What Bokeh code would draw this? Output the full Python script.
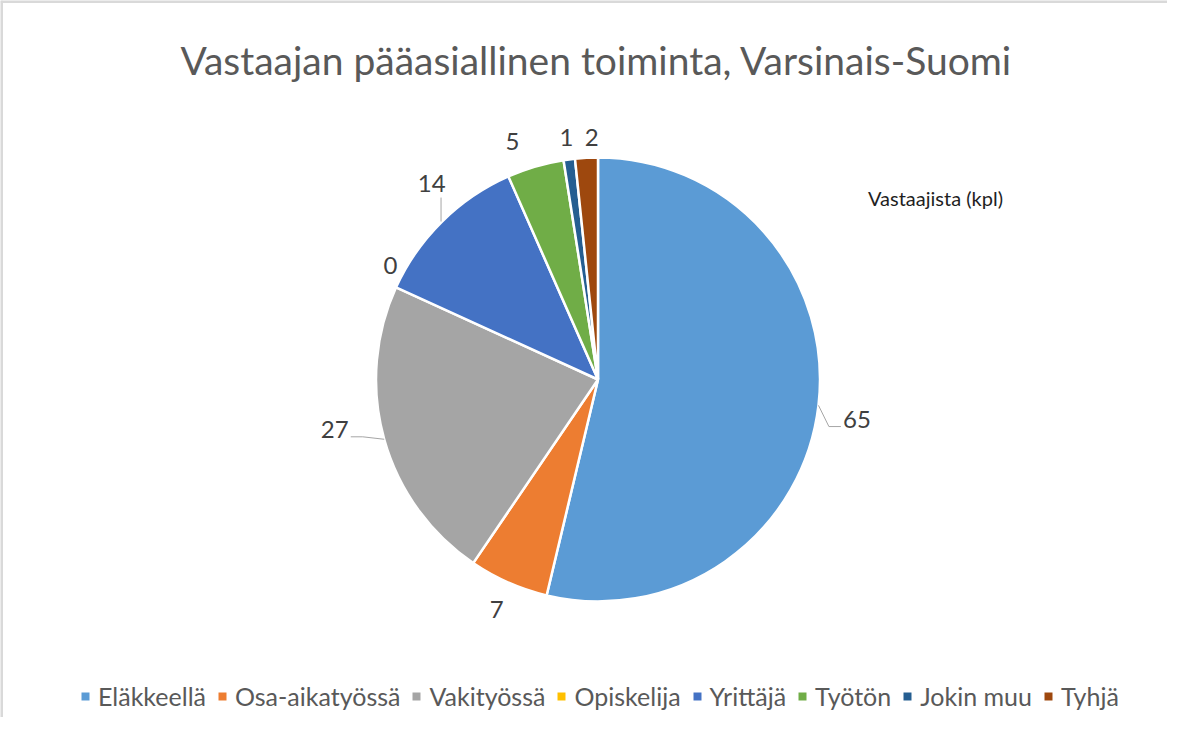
import math
from bokeh.plotting import figure
from bokeh.models import Range1d, Legend, LegendItem, ColumnDataSource
from bokeh.core.properties import value
from bokeh.embed import file_html
from bokeh.resources import INLINE

# ---- data ----
categories = ["Eläkkeellä", "Osa-aikatyössä", "Vakityössä", "Opiskelija",
              "Yrittäjä", "Työtön", "Jokin muu", "Tyhjä"]
counts = [65, 7, 27, 0, 14, 5, 1, 2]
colors = ["#5B9BD5", "#ED7D31", "#A5A5A5", "#FFC000",
          "#4472C4", "#70AD47", "#255E91", "#9E480E"]
title_text = "Vastaajan pääasiallinen toiminta, Varsinais-Suomi"
note_text = "Vastaajista (kpl)"

# ---- label placement style (Excel "best fit") ----
label_gap = [40, 29, 46, 15, 35, 31, 22, 20]          # px outside the rim
label_nudge = [-2.1, 0, -4.8, -4.3, -4.3, 3.4, 0, -1.5]  # degrees
leader = ["h", None, "h", None, "v", None, None, None]

W, H = 1167, 717
FONT = "Lato"

p = figure(width=W, height=H, output_backend="svg", toolbar_location=None,
           x_axis_type=None, y_axis_type=None,
           x_range=Range1d(0, W), y_range=Range1d(0, H),
           min_border=0, outline_line_color=None)
p.grid.visible = False

def sy(y):
    return H - y

cx, cy, r = 597.5, sy(379), 222

total = sum(counts)
starts, ends, mids = [], [], []
cum = 0
for v in counts:
    a0 = math.pi / 2 - 2 * math.pi * cum / total
    cum += v
    a1 = math.pi / 2 - 2 * math.pi * cum / total
    starts.append(a0)
    ends.append(a1)
    mids.append((a0 + a1) / 2)

keep = [i for i, v in enumerate(counts) if v > 0]
src = ColumnDataSource(dict(start=[starts[i] for i in keep],
                            end=[ends[i] for i in keep],
                            color=[colors[i] for i in keep]))
p.wedge(x=cx, y=cy, radius=r, start_angle="start", end_angle="end",
        direction="clock", fill_color="color", line_color="white",
        line_width=2.5, source=src)

# labels
lx, ly = [], []
for a, g, n in zip(mids, label_gap, label_nudge):
    aa = a + math.radians(n)
    lx.append(cx + (r + g) * math.cos(aa))
    ly.append(cy + (r + g) * math.sin(aa))
p.text(x=lx, y=ly, text=[str(v) for v in counts], text_align="center",
       text_baseline="middle", text_font=value(FONT), text_font_size="24px",
       text_color="#404040")

# leader lines
for i, kind in enumerate(leader):
    if kind is None:
        continue
    a = mids[i]
    ex, ey = cx + r * math.cos(a), cy + r * math.sin(a)
    if kind == "h":
        d = 1 if ex > lx[i] else -1
        ax, ay = lx[i] + d * 16, ly[i] - 7
        p.line([ex, ax + d * 12, ax], [ey, ay, ay],
               line_color="#A6A6A6", line_width=1)
    else:
        ax, ay = ex - 1, ly[i] - 14
        p.line([ex - 1, ax], [ey, ay], line_color="#A6A6A6", line_width=1)

# title
p.text(x=[596], y=[sy(59)], text=[title_text], text_align="center",
       text_baseline="middle", text_font=value(FONT),
       text_font_size="39px", text_color="#595959")

# note
p.text(x=[935], y=[sy(197)], text=[note_text], text_align="center",
       text_baseline="middle", text_font=value(FONT),
       text_font_size="20px", text_color="#1F1F1F")

# border (top and left)
p.line([0, W], [sy(1), sy(1)], line_color="#D9D9D9", line_width=3)
p.line([1, 1], [sy(0), sy(H)], line_color="#D9D9D9", line_width=3)

# legend
nan = float("nan")
n = len(categories)
lsrc = ColumnDataSource(dict(l=[nan] * n, r=[nan] * n, t=[nan] * n, b=[nan] * n,
                             color=colors))
lr = p.quad(left="l", right="r", top="t", bottom="b", fill_color="color",
            line_color=None, source=lsrc)
items = [LegendItem(label=c, renderers=[lr], index=i) for i, c in enumerate(categories)]
legend = Legend(items=items, orientation="horizontal", location=(80, 6),
                label_text_font=FONT, label_text_font_size="25px",
                label_text_color="#595959", glyph_width=10, glyph_height=10,
                label_standoff=8, spacing=11, padding=0, margin=0,
                border_line_color=None, background_fill_alpha=0)
p.add_layout(legend, "center")

open("out.html", "w").write(file_html(p, INLINE))
